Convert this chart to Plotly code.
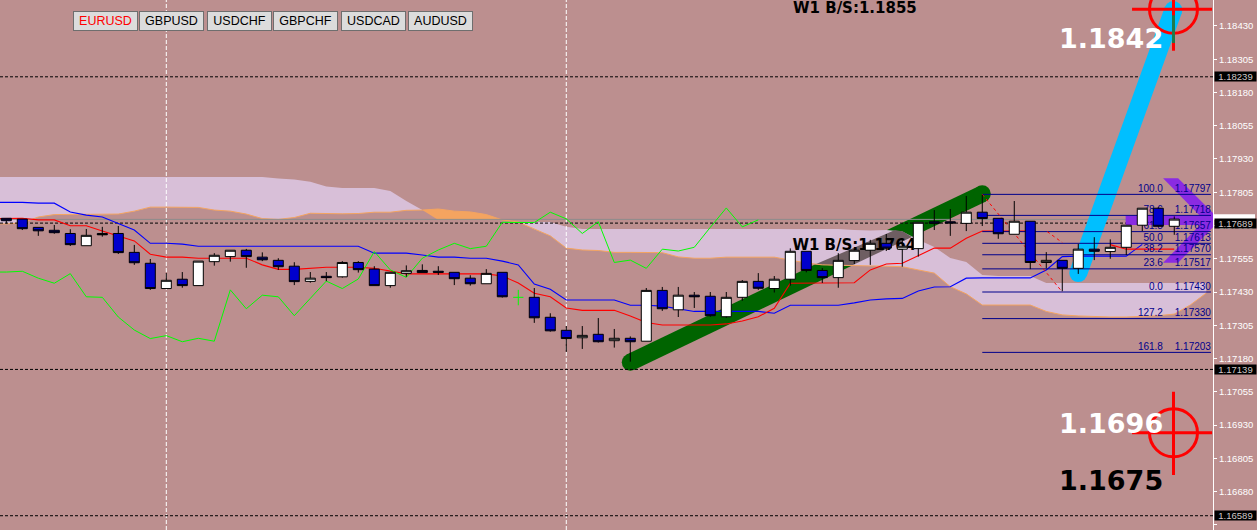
import plotly.graph_objects as go

# ---------- candles (bar index = position in the list) ----------
opens = [1.17707,1.17704,1.17673,1.17662,1.17650,1.17604,1.17650,1.17650,1.17579,1.17538,1.17443,1.17478,1.17454,1.17544,1.17563,1.17587,1.17561,1.17549,1.17527,1.17470,
         1.17489,1.17487,1.17541,1.17516,1.17454,1.17500,1.17511,1.17508,1.17504,1.17482,1.17461,1.17504,1.17410,1.17410,1.17335,1.17286,1.17258,1.17271,1.17247,1.17256,
         1.17245,1.17436,1.17363,1.17418,1.17414,1.17337,1.17410,1.17470,1.17443,1.17478,1.17583,1.17511,1.17484,1.17548,1.17587,1.17613,1.17591,1.17593,1.17694,1.17694,
         1.17688,1.17730,1.17707,1.17647,1.17696,1.17541,1.17549,1.17519,1.17591,1.17582,1.17598,1.17681,1.17745,1.17677]
highs = [1.17707,1.17704,1.17673,1.17682,1.17666,1.17667,1.17675,1.17678,1.17607,1.17554,1.17501,1.17505,1.17546,1.17576,1.17587,1.17592,1.17579,1.17557,1.17542,1.17505,
         1.17505,1.17546,1.17546,1.17527,1.17504,1.17530,1.17534,1.17527,1.17504,1.17493,1.17516,1.17504,1.17438,1.17445,1.17350,1.17302,1.17302,1.17332,1.17291,1.17263,
         1.17445,1.17449,1.17449,1.17430,1.17430,1.17430,1.17475,1.17501,1.17490,1.17594,1.17583,1.17520,1.17576,1.17592,1.17626,1.17648,1.17632,1.17692,1.17738,1.17742,
         1.17791,1.17795,1.17707,1.17772,1.17696,1.17580,1.17549,1.17611,1.17636,1.17628,1.17681,1.17745,1.17748,1.17714]
lows  = [1.17687,1.17663,1.17641,1.17649,1.17603,1.17604,1.17638,1.17573,1.17532,1.17438,1.17443,1.17446,1.17454,1.17529,1.17544,1.17521,1.17546,1.17513,1.17456,1.17465,
         1.17471,1.17484,1.17503,1.17454,1.17446,1.17487,1.17503,1.17494,1.17456,1.17454,1.17461,1.17409,1.17380,1.17314,1.17281,1.17205,1.17216,1.17240,1.17221,1.17168,
         1.17245,1.17359,1.17336,1.17370,1.17337,1.17333,1.17397,1.17438,1.17428,1.17454,1.17504,1.17464,1.17446,1.17535,1.17532,1.17584,1.17525,1.17563,1.17663,1.17641,
         1.17659,1.17678,1.17630,1.17647,1.17516,1.17519,1.17433,1.17498,1.17550,1.17555,1.17569,1.17659,1.17677,1.17645]
closes= [1.17698,1.17668,1.17660,1.17653,1.17608,1.17643,1.17645,1.17578,1.17540,1.17443,1.17474,1.17454,1.17546,1.17568,1.17587,1.17563,1.17551,1.17525,1.17469,1.17482,
         1.17484,1.17541,1.17514,1.17454,1.17504,1.17510,1.17503,1.17504,1.17480,1.17461,1.17500,1.17412,1.17408,1.17333,1.17284,1.17255,1.17267,1.17243,1.17256,1.17243,
         1.17436,1.17367,1.17418,1.17412,1.17341,1.17410,1.17470,1.17444,1.17478,1.17583,1.17511,1.17484,1.17549,1.17587,1.17613,1.17595,1.17602,1.17692,1.17688,1.17689,
         1.17730,1.17706,1.17649,1.17696,1.17541,1.17549,1.17519,1.17591,1.17583,1.17598,1.17681,1.17745,1.17677,1.17704]
green_bar = 32

# ---------- Ichimoku (first entry sits one bar left of the first candle) ----------
span_a = [1.17686,1.17686,1.17690,1.17712,1.17721,1.17722,1.17722,1.17722,1.17723,1.17734,1.17749,1.17749,1.17749,1.17748,1.17738,1.17734,1.17723,1.17706,1.17703,1.17710,1.17726,
          1.17724,1.17724,1.17725,1.17730,1.17730,1.17737,1.17738,1.17742,1.17734,1.17731,1.17721,1.17701,1.17693,1.17666,1.17641,1.17595,1.17588,1.17586,1.17579,1.17579,
          1.17579,1.17578,1.17562,1.17557,1.17557,1.17561,1.17561,1.17561,1.17561,1.17550,1.17539,1.17532,1.17530,1.17529,1.17528,1.17527,1.17525,1.17513,1.17501,1.17450,
          1.17423,1.17381,1.17381,1.17381,1.17381,1.17357,1.17344,1.17340,1.17337,1.17336,1.17336,1.17338,1.17341,1.17347,1.17381,1.17426]
span_b = [1.17862]*18 + [1.17857,1.17853,1.17844,1.17827,1.17821,1.17821,1.17821,1.17810,1.17772,1.17738] + [1.17701]*5 + [1.17693]*3 + [1.17675] + [1.17667]*17 + \
         [1.17663,1.17661,1.17663,1.17657,1.17626,1.17599,1.17558,1.17543,1.17494,1.17490,1.17490,1.17490] + [1.17464]*11
kijun = [1.17767,1.17767,1.17767,1.17764,1.17764,1.17731,1.17719,1.17712,1.17686,1.17663,1.17613,1.17613,1.17610] + [1.17602]*11 + \
        [1.17576,1.17576,1.17576,1.17569,1.17561,1.17561,1.17557,1.17557,1.17546,1.17532,1.17460,1.17440,1.17400,1.17400,1.17400,1.17400,1.17380,1.17380,1.17377,1.17366,1.17357,
         1.17357,1.17357,1.17357,1.17357,1.17350,1.17380,1.17380,1.17380,1.17380,1.17389,1.17400,1.17404,1.17406,1.17434,1.17449,1.17450,1.17482,1.17483,1.17483,1.17483,1.17483,
         1.17513,1.17563,1.17565,1.17565,1.17565,1.17565,1.17609]
tenkan = [1.17706,1.17706,1.17707,1.17701,1.17701,1.17679,1.17679,1.17659,1.17641,1.17622,1.17572,1.17561,1.17561,1.17557,1.17557,1.17557,1.17557,1.17532,1.17515,1.17515,1.17519,
          1.17523,1.17523,1.17523,1.17519,1.17509,1.17498,1.17498,1.17498,1.17498,1.17498,1.17498,1.17490,1.17464,1.17425,1.17412,1.17370,1.17361,1.17361,1.17361,1.17340,1.17315,
          1.17306,1.17306,1.17306,1.17306,1.17310,1.17321,1.17337,1.17369,1.17463,1.17463,1.17463,1.17463,1.17465,1.17513,1.17535,1.17538,1.17565,1.17595,1.17595,1.17632,1.17659,
          1.17659,1.17659,1.17659,None,None,None,None,1.17608,1.17591,1.17591,1.17591,1.17591]
chikou = [1.17505,1.17505,1.17508,1.17482,1.17463,1.17499,1.17412,1.17410,1.17336,1.17287,1.17255,1.17266,1.17243,1.17256,1.17245,1.17438,1.17367,1.17418,1.17412,1.17341,1.17406,
          1.17471,1.17443,1.17479,1.17582,1.17513,1.17485,1.17557,1.17588,1.17613,1.17593,1.17602,1.17692,1.17692,1.17691,1.17730,1.17705,1.17650,1.17694,1.17541,1.17550,
          1.17519,1.17591,1.17584,1.17598,1.17673,1.17746,1.17675,1.17701]

# ---------- drawn objects ----------
green_x, green_y = [39, 61], [1.17166, 1.17799]
cyan_x, cyan_y = [67, 72.94], [1.17501, 1.18490]
overlap_x = [50.5, 52.85, 56.6, 56.05, 55.55]
overlap_y = [1.17532, 1.17530, 1.17637, 1.17657, 1.17663]
arrow_x = [69.96, 74.6, 72.3, 73.24, 75.86, 73.24, 72.3, 74.6, 69.96]
arrow_y = [1.17717, 1.17717, 1.17858, 1.17858, 1.17700, 1.17540, 1.17540, 1.17682, 1.17682]
fib_labels = ["100.0", "78.6", "61.8", "50.0", "38.2", "23.6", "0.0", "127.2", "161.8"]
fib_prices = [1.17797, 1.17718, 1.17657, 1.17613, 1.17570, 1.17517, 1.17430, 1.17330, 1.17203]
fib_from, fib_to, fib_label_x = 61, 75.29, 72.29
fib_trend_x, fib_trend_y = [61, 66], [1.17797, 1.17430]
fib_trend2_x, fib_trend2_y = [65.06, 66], [1.17657, 1.17616]
dash_levels = [1.18239, 1.17689, 1.17139, 1.16589]
bid_level = 1.17703
separator_bars = [10, 35]
ticks = [1.18430,1.18305,1.18180,1.18055,1.17930,1.17805,1.17680,1.17555,1.17430,1.17305,1.17180,1.17055,1.16930,1.16805,1.16680,1.16555]
cross_x = 72.95
cross_arm_x = [70.36, 75.36]
cross_top = dict(y=1.18493, v=[1.18528, 1.18337], xor=[1.18470, 1.18366])
cross_low = dict(y=1.16901, v=[1.17055, 1.16742])
buttons = ["EURUSD", "GBPUSD", "USDCHF", "GBPCHF", "USDCAD", "AUDUSD"]
button_left = [72.7, 139.3, 206.7, 273.3, 340.7, 407.7]

BG = "#BC8F8F"
PW, PH = 1213, 530
YR = [1.165353, 1.185277]
XR = [-0.394, 75.42]
SANS = "Liberation Sans"
BOLD = "DejaVu Sans"

bar_x = list(range(-1, 76))
upper = [max(a, b) for a, b in zip(span_a, span_b)]
fig = go.Figure()

def line(x, y, color, width, dash=None, **kw):
    fig.add_trace(go.Scatter(x=x, y=y, mode="lines", line=dict(color=color, width=width, dash=dash),
                             hoverinfo="skip", showlegend=False, connectgaps=False, **kw))

# trend band 1 with round ends
fig.add_trace(go.Scatter(x=green_x, y=green_y, mode="lines+markers", line=dict(color="#006400", width=17),
                         marker=dict(color="#006400", size=17), hoverinfo="skip", showlegend=False))
# cloud
fig.add_trace(go.Scatter(x=bar_x + bar_x[::-1], y=upper + span_a[::-1], fill="toself", mode="none",
                         fillcolor="#D8BFD8", hoverinfo="skip", showlegend=False))
fig.add_trace(go.Scatter(x=bar_x + bar_x[::-1], y=upper + span_b[::-1], fill="toself", mode="none",
                         fillcolor="#F4A460", hoverinfo="skip", showlegend=False))
fig.add_trace(go.Scatter(x=overlap_x, y=overlap_y, fill="toself", mode="none", fillcolor="#6E5E62",
                         hoverinfo="skip", showlegend=False))
line(bar_x, span_a, "#F4A460", 1)
for b in separator_bars:
    line([b, b], YR, "#FFFFFF", 1, "4px,2px")
line([XR[0], XR[1]], [bid_level, bid_level], "#8C8C8C", 1)
for lv in dash_levels:
    line([XR[0], XR[1]], [lv, lv], "#000000", 1, "3px,2px")
# cyan band with round ends
fig.add_trace(go.Scatter(x=cyan_x, y=cyan_y, mode="lines+markers", line=dict(color="#00BFFF", width=18),
                         marker=dict(color="#00BFFF", size=18), hoverinfo="skip", showlegend=False))
# arrow
fig.add_trace(go.Scatter(x=arrow_x, y=arrow_y, fill="toself", mode="none", fillcolor="#8A2BE2",
                         hoverinfo="skip", showlegend=False))
# ichimoku lines
line(bar_x[:len(kijun)], kijun, "#0000FF", 1.1)
line(bar_x[:len(tenkan)], tenkan, "#FF0000", 1.1)
line(bar_x[:len(chikou)], chikou, "#00FF00", 1)
# fibonacci
for p in fib_prices:
    line([fib_from, fib_to], [p, p], "#00008B", 1)
line(fib_trend_x, fib_trend_y, "#FF0000", 1, "3px,3px")
line(fib_trend2_x, fib_trend2_y, "#FF0000", 1, "3px,3px")
fig.add_trace(go.Scatter(x=[fib_label_x] * len(fib_labels), y=fib_prices, mode="text", text=fib_labels,
                         textposition="top left", textfont=dict(family=SANS, size=10, color="#00008B"),
                         hoverinfo="skip", showlegend=False))
fig.add_trace(go.Scatter(x=[fib_to] * len(fib_prices), y=fib_prices, mode="text",
                         text=[f"{p:.5f}" for p in fib_prices], textposition="top left",
                         textfont=dict(family=SANS, size=10, color="#00008B"), hoverinfo="skip", showlegend=False))
# mid text below candles
fig.add_trace(go.Scatter(x=[53], y=[1.17601], mode="text", text=["W1 B/S:1.1764"], textposition="middle center",
                         textfont=dict(family=BOLD, size=15, color="#000000", weight="bold"), hoverinfo="skip", showlegend=False))
# green cross bar
line([green_bar, green_bar], [highs[green_bar], lows[green_bar]], "#00FF00", 1)
line([green_bar - 0.32, green_bar + 0.32], [opens[green_bar], opens[green_bar]], "#00FF00", 1)
# crosshairs
for c in (cross_top, cross_low):
    line(cross_arm_x, [c["y"], c["y"]], "#FF0000", 3)
    line([cross_x, cross_x], c["v"], "#FF0000", 3)
    fig.add_trace(go.Scatter(x=[cross_x], y=[c["y"]], mode="markers",
                             marker=dict(symbol="circle-open", size=48, color="#FF0000", line=dict(color="#FF0000", width=3)),
                             hoverinfo="skip", showlegend=False))
line([cross_x, cross_x], cross_top["xor"], "#207A4A", 3)

# candles on an overlaid pair of axes so that they sit above everything
idx = [i for i in range(len(opens)) if i != green_bar]
fig.add_trace(go.Candlestick(x=idx, open=[opens[i] for i in idx], high=[highs[i] for i in idx],
                             low=[lows[i] for i in idx], close=[closes[i] for i in idx],
                             increasing=dict(fillcolor="#FFFFFF", line=dict(color="#000000", width=1)),
                             decreasing=dict(fillcolor="#0000CD", line=dict(color="#000000", width=1)),
                             whiskerwidth=0, xaxis="x2", yaxis="y2", hoverinfo="skip", showlegend=False))

def px(x): return x / PW
def py(y): return 1 - y / PH

ann = []
def text(x, y, s, color, size, family=SANS, bold=False, xanchor="center", **kw):
    ann.append(dict(xref="paper", yref="paper", x=px(x), y=py(y), text=f"<b>{s}</b>" if bold else s, showarrow=False,
                    xanchor=xanchor, yanchor=kw.pop("yanchor", "middle"), font=dict(family=family, size=size, color=color), **kw))

text(2, 3.5, "05 1.17848 1.17702", "#FFFFFF", 10, xanchor="left", yanchor="bottom")
text(854.5, 7.5, "W1 B/S:1.1855", "#000000", 15, family=BOLD, bold=True)
text(1111, 38.3, "1.1842", "#FFFFFF", 27, family=BOLD, bold=True)
text(1111, 423.3, "1.1696", "#FFFFFF", 27, family=BOLD, bold=True)
text(1111, 480.7, "1.1675", "#000000", 27, family=BOLD, bold=True)
for name, left in zip(buttons, button_left):
    text(left, 11.3, name, "#FF0000" if name == "EURUSD" else "#000000", 12.5, xanchor="left", yanchor="top",
         width=63, height=18, bgcolor="#DCDCDC", bordercolor="#6E6E6E", borderwidth=1, borderpad=0, align="center")

def price_box(level, fg, bg):
    ann.append(dict(xref="paper", yref="y", x=px(1214), y=level, text=f"{level:.5f}", showarrow=False, xanchor="left",
                    yanchor="middle", width=41, height=9, bgcolor=bg, borderpad=0, align="center",
                    font=dict(family=SANS, size=9.5, color=fg)))
for lv in dash_levels:
    price_box(lv, "#D0C8C8", "#000000")

bid_box = dict(type="rect", xref="paper", yref="paper", x0=px(1214), x1=px(1255), y0=py(220), y1=py(214.3),
               fillcolor="#FFFFFF", line=dict(width=0), layer="above")

fig.update_layout(
    width=1257, height=530, margin=dict(l=0, r=44, t=0, b=0), paper_bgcolor=BG, plot_bgcolor=BG,
    boxgap=0.375, boxgroupgap=0, showlegend=False, annotations=ann, shapes=[bid_box], hovermode=False,
    xaxis=dict(range=XR, visible=False, fixedrange=True),
    yaxis=dict(range=YR, side="right", tickmode="array", tickvals=ticks, ticktext=[f"{t:.5f}" for t in ticks],
               showgrid=False, zeroline=False, ticks="outside", ticklen=3, tickcolor="#FFFFFF", tickwidth=1,
               showline=True, linecolor="#FFFFFF", linewidth=1, tickfont=dict(family=SANS, size=9.5, color="#FFFFFF"), fixedrange=True),
    xaxis2=dict(range=XR, visible=False, overlaying="x", rangeslider=dict(visible=False), fixedrange=True),
    yaxis2=dict(range=YR, visible=False, overlaying="y", fixedrange=True),
)
fig.write_html("out.html", config=dict(displayModeBar=False),
               post_script="document.body.style.margin='0';window.dispatchEvent(new Event('resize'));")
